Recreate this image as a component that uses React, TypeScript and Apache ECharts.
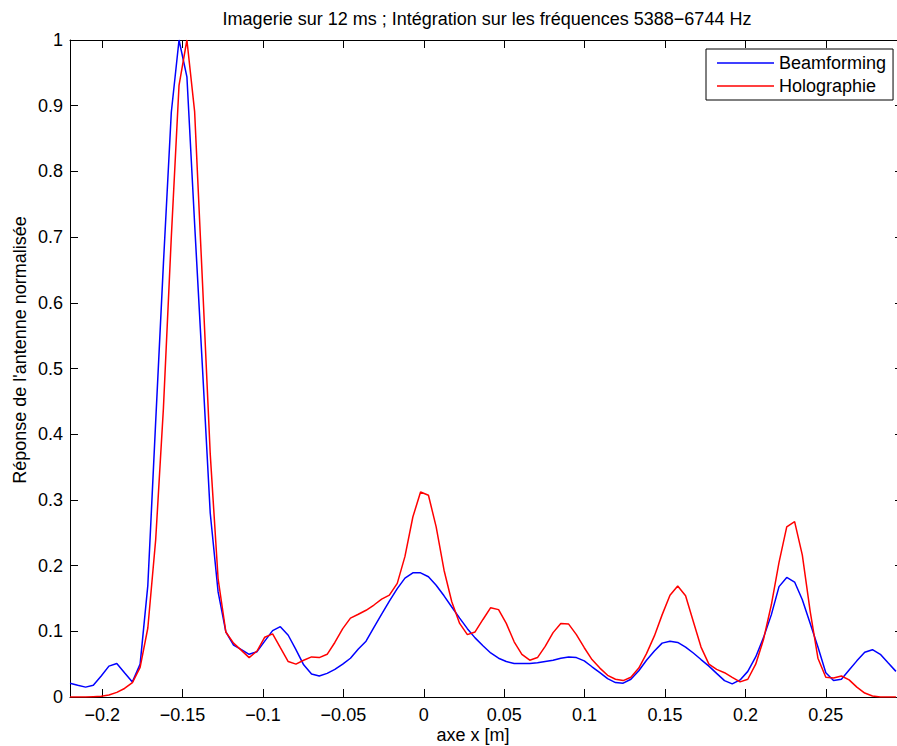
import React, { useEffect, useRef } from "react";
import * as echarts from "echarts";

// Sample positions along the x axis [m]
const xPositions = [
  -0.2200, -0.2152, -0.2103, -0.2055, -0.2006, -0.1958, -0.1909, -0.1861, -0.1812, -0.1764,
  -0.1716, -0.1667, -0.1619, -0.1570, -0.1522, -0.1473, -0.1425, -0.1376, -0.1328, -0.1279,
  -0.1231, -0.1183, -0.1134, -0.1086, -0.1037, -0.0989, -0.0940, -0.0892, -0.0843, -0.0795,
  -0.0747, -0.0698, -0.0650, -0.0601, -0.0553, -0.0504, -0.0456, -0.0407, -0.0359, -0.0310,
  -0.0262, -0.0214, -0.0165, -0.0117, -0.0068, -0.0020, 0.0029, 0.0077, 0.0126, 0.0174,
  0.0223, 0.0271, 0.0319, 0.0368, 0.0416, 0.0465, 0.0513, 0.0562, 0.0610, 0.0659,
  0.0707, 0.0755, 0.0804, 0.0852, 0.0901, 0.0949, 0.0998, 0.1046, 0.1095, 0.1143,
  0.1192, 0.1240, 0.1288, 0.1337, 0.1385, 0.1434, 0.1482, 0.1531, 0.1579, 0.1628,
  0.1676, 0.1724, 0.1773, 0.1821, 0.1870, 0.1918, 0.1967, 0.2015, 0.2064, 0.2112,
  0.2161, 0.2209, 0.2257, 0.2306, 0.2354, 0.2403, 0.2451, 0.2500, 0.2548, 0.2597,
  0.2645, 0.2693, 0.2742, 0.2790, 0.2839, 0.2887, 0.2936,
];

const beamforming = [
  0.021, 0.018, 0.015, 0.018, 0.032, 0.047, 0.051, 0.037, 0.023, 0.050,
  0.170, 0.420, 0.660, 0.890, 1.000, 0.944, 0.720, 0.500, 0.280, 0.160,
  0.099, 0.079, 0.072, 0.065, 0.069, 0.085, 0.101, 0.107, 0.094, 0.072,
  0.049, 0.035, 0.032, 0.036, 0.042, 0.050, 0.059, 0.073, 0.085, 0.106,
  0.126, 0.146, 0.165, 0.181, 0.189, 0.189, 0.183, 0.170, 0.154, 0.137,
  0.120, 0.104, 0.090, 0.078, 0.067, 0.059, 0.054, 0.051, 0.051, 0.051,
  0.052, 0.054, 0.056, 0.059, 0.061, 0.060, 0.055, 0.046, 0.037, 0.028,
  0.022, 0.021, 0.027, 0.040, 0.056, 0.070, 0.082, 0.085, 0.083, 0.076,
  0.067, 0.057, 0.047, 0.036, 0.025, 0.020, 0.026, 0.039, 0.061, 0.090,
  0.125, 0.168, 0.182, 0.175, 0.148, 0.112, 0.076, 0.037, 0.025, 0.027,
  0.041, 0.055, 0.068, 0.072, 0.065, 0.052, 0.039,
];

const holographie = [
  0.000, 0.000, 0.000, 0.0005, 0.001, 0.003, 0.007, 0.013, 0.022, 0.045,
  0.105, 0.240, 0.440, 0.700, 0.931, 1.000, 0.891, 0.630, 0.370, 0.180,
  0.099, 0.082, 0.071, 0.060, 0.070, 0.091, 0.096, 0.075, 0.054, 0.050,
  0.056, 0.061, 0.060, 0.065, 0.083, 0.104, 0.120, 0.126, 0.132, 0.140,
  0.149, 0.155, 0.173, 0.214, 0.274, 0.312, 0.307, 0.259, 0.193, 0.145,
  0.112, 0.095, 0.099, 0.118, 0.136, 0.133, 0.112, 0.084, 0.065, 0.056,
  0.060, 0.077, 0.098, 0.112, 0.111, 0.095, 0.075, 0.057, 0.044, 0.033,
  0.027, 0.025, 0.030, 0.044, 0.066, 0.093, 0.125, 0.155, 0.169, 0.154,
  0.115, 0.076, 0.050, 0.042, 0.037, 0.030, 0.023, 0.027, 0.050, 0.087,
  0.140, 0.205, 0.259, 0.267, 0.216, 0.130, 0.059, 0.030, 0.029, 0.032,
  0.026, 0.015, 0.006, 0.0015, 0.000, 0.000, 0.000,
];

const seriesNames = ["Beamforming", "Holographie"];
const xTicks = [-0.2, -0.15, -0.1, -0.05, 0, 0.05, 0.1, 0.15, 0.2, 0.25];
const yTicks = [0, 0.1, 0.2, 0.3, 0.4, 0.5, 0.6, 0.7, 0.8, 0.9, 1];
const xRange = [-0.22, 0.298];
const yRange = [0, 1];
const titleText = "Imagerie sur 12 ms ; Intégration sur les fréquences 5388\u22126744 Hz";
const xAxisTitle = "axe x [m]";
const yAxisTitle = "Réponse de l'antenne normalisée";

const FONT = '"Liberation Sans", Arial, Helvetica, sans-serif';

const fmt = (v: number) => {
  const r = Math.round(v * 1000) / 1000;
  return String(r).replace("-", "\u2212");
};

export default function App() {
  const ref = useRef<HTMLDivElement>(null);

  useEffect(() => {
    if (!ref.current) return;
    const chart = echarts.init(ref.current, undefined, { renderer: "svg" });

    const tickCommon = {
      inside: true,
      length: 8,
      lineStyle: { color: "#000", width: 1 },
    };
    const lineCommon = { show: true, onZero: false, lineStyle: { color: "#000", width: 1 } };

    const mkX = (pos: "bottom" | "top", labels: boolean) => ({
      type: "value",
      position: pos,
      min: xRange[0],
      max: xRange[1],
      axisLine: lineCommon,
      axisTick: { ...tickCommon, customValues: xTicks },
      axisLabel: {
        show: labels,
        customValues: xTicks,
        formatter: fmt,
        color: "#000",
        fontSize: 18,
        fontFamily: FONT,
        margin: 9,
      },
      splitLine: { show: false },
    });
    const mkY = (pos: "left" | "right", labels: boolean) => ({
      type: "value",
      position: pos,
      min: yRange[0],
      max: yRange[1],
      axisLine: lineCommon,
      axisTick: { ...tickCommon, customValues: yTicks },
      axisLabel: {
        show: labels,
        customValues: yTicks,
        formatter: fmt,
        color: "#000",
        fontSize: 18,
        fontFamily: FONT,
        margin: 7,
      },
      splitLine: { show: false },
    });

    const colors = ["#0000ff", "#ff0000"];
    const seriesData = [beamforming, holographie];

    chart.setOption({
      animation: false,
      backgroundColor: "#fff",
      grid: { left: 70, top: 40, right: 2, bottom: 49, containLabel: false },
      xAxis: [mkX("bottom", true), mkX("top", false)],
      yAxis: [mkY("left", true), mkY("right", false)],
      legend: {
        data: seriesNames.map((name) => ({ name, icon: "rect" })),
        orient: "vertical",
        align: "left",
        left: 706,
        top: 49,
        padding: [5, 7, 5, 11],
        itemGap: 5,
        itemWidth: 57,
        itemHeight: 1.5,
        borderColor: "#000",
        borderWidth: 1,
        backgroundColor: "#fff",
        textStyle: { color: "#000", fontSize: 18, fontFamily: FONT },
      },
      graphic: [
        {
          type: "text",
          x: 487,
          y: 18.5,
          style: {
            text: titleText,
            fill: "#000",
            fontSize: 18,
            fontFamily: FONT,
            align: "center",
            verticalAlign: "middle",
            textAlign: "center",
            textVerticalAlign: "middle",
          },
        },
        {
          type: "text",
          x: 473,
          y: 735,
          style: {
            text: xAxisTitle,
            fill: "#000",
            fontSize: 18,
            fontFamily: FONT,
            align: "center",
            verticalAlign: "middle",
            textAlign: "center",
            textVerticalAlign: "middle",
          },
        },
        {
          type: "text",
          x: 20,
          y: 350,
          rotation: Math.PI / 2,
          style: {
            text: yAxisTitle,
            fill: "#000",
            fontSize: 18,
            fontFamily: FONT,
            align: "center",
            verticalAlign: "middle",
            textAlign: "center",
            textVerticalAlign: "middle",
          },
        },
      ],
      series: seriesNames.map((name, i) => ({
        name,
        type: "line",
        xAxisIndex: 0,
        yAxisIndex: 0,
        data: xPositions.map((x, k) => [x, seriesData[i][k]]),
        symbol: "none",
        showSymbol: false,
        clip: true,
        lineStyle: { color: colors[i], width: 1.5 },
        itemStyle: { color: colors[i] },
        emphasis: { disabled: true },
      })),
    });

    return () => chart.dispose();
  }, []);

  return (
    <div
      style={{
        position: "absolute",
        left: 0,
        top: 0,
        width: 897,
        height: 746,
        overflow: "hidden",
        background: "#fff",
      }}
    >
      <div ref={ref} style={{ width: 905, height: 746 }} />
    </div>
  );
}
